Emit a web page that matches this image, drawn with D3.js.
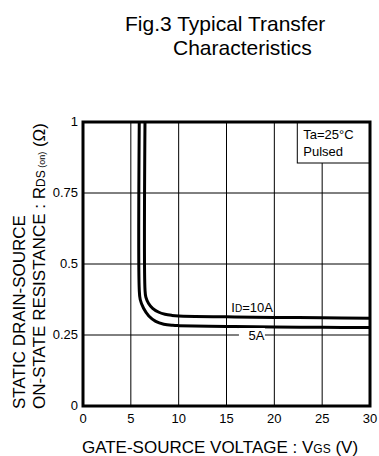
<!DOCTYPE html>
<html>
<head>
<meta charset="utf-8">
<script src="https://cdn.jsdelivr.net/npm/d3@7"></script>
<style>
body { margin: 0; background: #fff; }
text { font-family: "Liberation Sans", Arial, sans-serif; fill: #000; }
</style>
</head>
<body>
<div id="chart"></div>
<script>
// data
var xTicks = [0, 5, 10, 15, 20, 25, 30];
var yTicks = [0, 0.25, 0.5, 0.75, 1];
var yTickLabels = ["0", "0.25", "0.5", "0.75", "1"];

var vgs5A = [5.88, 5.88, 5.98, 6.33, 6.88, 7.6, 8.45, 9.4, 10, 15, 20, 25, 30];
var rds5A = [1.0, 0.41, 0.375, 0.344, 0.317, 0.298, 0.288, 0.284, 0.283, 0.280, 0.278, 0.277, 0.276];
var vgs10A = [6.48, 6.48, 6.57, 6.84, 7.28, 7.88, 8.57, 9.3, 10, 15, 20, 25, 30];
var rds10A = [1.0, 0.41, 0.383, 0.362, 0.344, 0.331, 0.323, 0.319, 0.317, 0.314, 0.312, 0.311, 0.309];

var m = {left: 83, right: 9, top: 122, bottom: 50};
var W = 379, H = 456;
var w = W - m.left - m.right;
var h = H - m.top - m.bottom;

var svg = d3.select("#chart")
.append("svg")
.attr("width", W)
.attr("height", H);

var g = svg.append("g")
.attr("transform", "translate(" + m.left + "," + m.top + ")");

var x = d3.scaleLinear().domain([0, 30]).range([0, w]);
var y = d3.scaleLinear().domain([0, 1]).range([h, 0]);

// title
svg.append("text").attr("x", 125).attr("y", 31).attr("font-size", 21).text("Fig.3 Typical Transfer");
svg.append("text").attr("x", 173).attr("y", 55).attr("font-size", 21).text("Characteristics");

// grid
g.selectAll(".vg").data(xTicks.slice(1, -1)).enter().append("line")
.attr("x1", function(d) { return x(d); }).attr("x2", function(d) { return x(d); })
.attr("y1", 0).attr("y2", h)
.attr("stroke", "#000").attr("stroke-width", 1);
g.selectAll(".hg").data(yTicks.slice(1, -1)).enter().append("line")
.attr("y1", function(d) { return y(d); }).attr("y2", function(d) { return y(d); })
.attr("x1", 0).attr("x2", w)
.attr("stroke", "#000").attr("stroke-width", 1);

// curves
var line = d3.line()
.x(function(d) { return x(d[0]); })
.y(function(d) { return y(d[1]); })
.curve(d3.curveCatmullRom.alpha(0.5));

[[vgs5A, rds5A], [vgs10A, rds10A]].forEach(function(s) {
    g.append("path")
    .attr("d", line(d3.zip(s[0], s[1])))
    .attr("fill", "none")
    .attr("stroke", "#000")
    .attr("stroke-width", 3);
});

// curve labels
g.append("rect").attr("x", x(15.3)).attr("y", y(0.314) - 16).attr("width", 44).attr("height", 13).attr("fill", "#fff");
var l1 = g.append("text").attr("x", x(15.5)).attr("y", y(0.314) - 5).attr("font-size", 13);
l1.append("tspan").text("I");
l1.append("tspan").attr("font-size", 10).text("D");
l1.append("tspan").text("=10A");

g.append("rect").attr("x", x(16.3)).attr("y", y(0.25) - 7).attr("width", 26).attr("height", 14).attr("fill", "#fff");
g.append("text").attr("x", x(17.3)).attr("y", y(0.25) + 5).attr("font-size", 13).text("5A");

// condition box
g.append("rect").attr("x", x(22.4)).attr("y", 0).attr("width", w - x(22.4)).attr("height", 41)
.attr("fill", "#fff").attr("stroke", "#000").attr("stroke-width", 1);
g.append("text").attr("x", x(22.4) + 6).attr("y", 17).attr("font-size", 13).text("Ta=25°C");
g.append("text").attr("x", x(22.4) + 6).attr("y", 34).attr("font-size", 13).text("Pulsed");

// frame
g.append("rect").attr("x", 0).attr("y", 0).attr("width", w).attr("height", h)
.attr("fill", "none").attr("stroke", "#000").attr("stroke-width", 3);

// tick labels
g.selectAll(".xl").data(xTicks).enter().append("text")
.attr("x", function(d) { return x(d); }).attr("y", h + 17)
.attr("text-anchor", "middle").attr("font-size", 13)
.text(function(d) { return d; });
g.selectAll(".yl").data(yTicks).enter().append("text")
.attr("x", -5).attr("y", function(d) { return y(d) + 4; })
.attr("text-anchor", "end").attr("font-size", 13)
.text(function(d, i) { return yTickLabels[i]; });

// axis titles
var xt = svg.append("text").attr("x", 220).attr("y", 453).attr("text-anchor", "middle").attr("font-size", 17);
xt.append("tspan").text("GATE-SOURCE VOLTAGE : V");
xt.append("tspan").attr("font-size", 12).text("GS");
xt.append("tspan").text(" (V)");

var yt = svg.append("g").attr("transform", "translate(0,409) rotate(-90)");
yt.append("text").attr("x", 0).attr("y", 25).attr("font-size", 17).text("STATIC  DRAIN-SOURCE");
var y2 = yt.append("text").attr("x", 0).attr("y", 45).attr("font-size", 17);
y2.append("tspan").text("ON-STATE  RESISTANCE : R");
y2.append("tspan").attr("font-size", 12).text("DS");
y2.append("tspan").attr("font-size", 9).text(" (on)");
y2.append("tspan").text(" (Ω)");
</script>
</body>
</html>
